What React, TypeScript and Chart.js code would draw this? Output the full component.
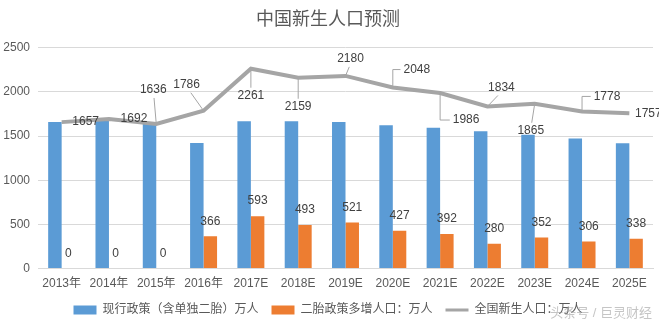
import React, { useEffect, useRef } from "react";
import { Chart, registerables } from "chart.js";

Chart.register(...registerables);

const categories = ["2013年", "2014年", "2015年", "2016年", "2017E", "2018E", "2019E", "2020E", "2021E", "2022E", "2023E", "2024E", "2025E"];
const currentPolicy = [1657, 1692, 1636, 1420, 1668, 1666, 1659, 1621, 1594, 1554, 1513, 1472, 1419];
const secondChildExtra = [0, 0, 0, 366, 593, 493, 521, 427, 392, 280, 352, 306, 338];
const totalBirths = [1657, 1692, 1636, 1786, 2261, 2159, 2180, 2048, 1986, 1834, 1865, 1778, 1757];
const seriesNames = ["现行政策（含单独二胎）万人", "二胎政策多增人口：万人", "全国新生人口：万人"];
const titleText = "中国新生人口预测";
const watermarkText = "头条号 / 巨灵财经";

// label placement (style): [dx, dy, leader: 0 none, 1 straight, 2 elbow]
const lineLabelOffsets: [number, number, number][] = [
  [24, 0, 0], [25, 0, 0], [-3, -34, 1], [-17, -26, 1], [0, 27, 1], [0, 29, 1], [5, -17, 1],
  [24, -18, 2], [26, 27, 2], [14, -19, 1], [-4, 27, 1], [25, -15, 2], [19, 0, 0],
];

const FONT = '"Liberation Sans", "Noto Sans CJK SC", sans-serif';
const BLUE = "#5b9bd5";
const ORANGE = "#ed7d31";
const GRAY = "#a5a5a5";
const TEXT = "#595959";

const labelPlugin = {
  id: "customLabels",
  afterDatasetsDraw(chart: any) {
    const ctx = chart.ctx;
    ctx.save();
    ctx.font = `12px ${FONT}`;
    ctx.fillStyle = "#404040";
    ctx.textAlign = "center";
    ctx.textBaseline = "middle";
    const m1 = chart.getDatasetMeta(1);
    m1.data.forEach((el: any, i: number) => {
      ctx.fillText(String(secondChildExtra[i]), el.x, el.y - 15);
    });
    const m2 = chart.getDatasetMeta(2);
    m2.data.forEach((pt: any, i: number) => {
      const [dx, dy, lead] = lineLabelOffsets[i];
      const lx = pt.x + dx;
      const ly = pt.y + dy;
      const txt = String(totalBirths[i]);
      if (lead) {
        const hw = ctx.measureText(txt).width / 2 + 3;
        const hh = 8;
        ctx.strokeStyle = GRAY;
        ctx.lineWidth = 1;
        ctx.beginPath();
        ctx.moveTo(pt.x, pt.y);
        if (lead === 2) {
          ctx.lineTo(pt.x, ly);
          ctx.lineTo(lx - Math.sign(dx) * hw, ly);
        } else {
          ctx.lineTo(lx + 0.25 * (pt.x - lx), ly - Math.sign(dy) * hh);
        }
        ctx.stroke();
      }
      ctx.fillText(txt, lx, ly);
    });
    // watermark
    ctx.font = `13px ${FONT}`;
    ctx.fillStyle = "rgba(150,150,150,0.55)";
    ctx.textAlign = "right";
    ctx.fillText(watermarkText, 652, 313);
    ctx.restore();
  },
};

export default function App() {
  const ref = useRef<HTMLCanvasElement>(null);
  useEffect(() => {
    if (!ref.current) return;
    const chart = new Chart(ref.current, {
      type: "bar",
      data: {
        labels: categories,
        datasets: [
          { type: "bar", label: seriesNames[0], data: currentPolicy, backgroundColor: BLUE, order: 1 },
          { type: "bar", label: seriesNames[1], data: secondChildExtra, backgroundColor: ORANGE, order: 2 },
          {
            type: "line", label: seriesNames[2], data: totalBirths, borderColor: GRAY, borderWidth: 4,
            pointRadius: 0, tension: 0, fill: false, order: -1,
          } as any,
        ],
      },
      options: {
        animation: false,
        responsive: true,
        maintainAspectRatio: false,
        datasets: { bar: { categoryPercentage: 0.57, barPercentage: 1 } },
        layout: { padding: { left: 3, right: 6, top: 0, bottom: 0 } },
        plugins: {
          tooltip: { enabled: false },
          title: {
            display: true,
            text: titleText,
            color: TEXT,
            font: { family: FONT, size: 18, weight: "normal" },
            padding: { top: 9, bottom: 17 },
          },
          legend: {
            position: "bottom",
            labels: {
              usePointStyle: true,
              pointStyleWidth: 23,
              boxHeight: 9,
              padding: 13,
              color: TEXT,
              font: { family: FONT, size: 12 },
              generateLabels: () => [
                { text: seriesNames[0], fillStyle: BLUE, strokeStyle: BLUE, lineWidth: 0, pointStyle: "rect", hidden: false, datasetIndex: 0, fontColor: TEXT },
                { text: seriesNames[1], fillStyle: ORANGE, strokeStyle: ORANGE, lineWidth: 0, pointStyle: "rect", hidden: false, datasetIndex: 1, fontColor: TEXT },
                { text: seriesNames[2], fillStyle: GRAY, strokeStyle: GRAY, lineWidth: 3, pointStyle: "line", hidden: false, datasetIndex: 2, fontColor: TEXT },
              ] as any,
            },
          },
        },
        scales: {
          x: {
            grid: { display: false },
            border: { color: "#d9d9d9" },
            ticks: { color: TEXT, font: { family: FONT, size: 12 }, maxRotation: 0, padding: 0 },
          },
          y: {
            min: 0,
            max: 2500,
            afterFit: (scale: any) => { scale.width = 35; },
            ticks: { stepSize: 500, color: TEXT, font: { family: FONT, size: 12 }, padding: 8, callback: (v: any) => String(v) },
            grid: { color: "#d9d9d9", drawTicks: false },
            border: { display: false },
          },
        },
      },
      plugins: [labelPlugin],
    });
    return () => chart.destroy();
  }, []);
  return (
    <div style={{ position: "absolute", left: 0, top: 0, width: 659, height: 326, background: "#fff" }}>
      <canvas ref={ref} />
    </div>
  );
}
